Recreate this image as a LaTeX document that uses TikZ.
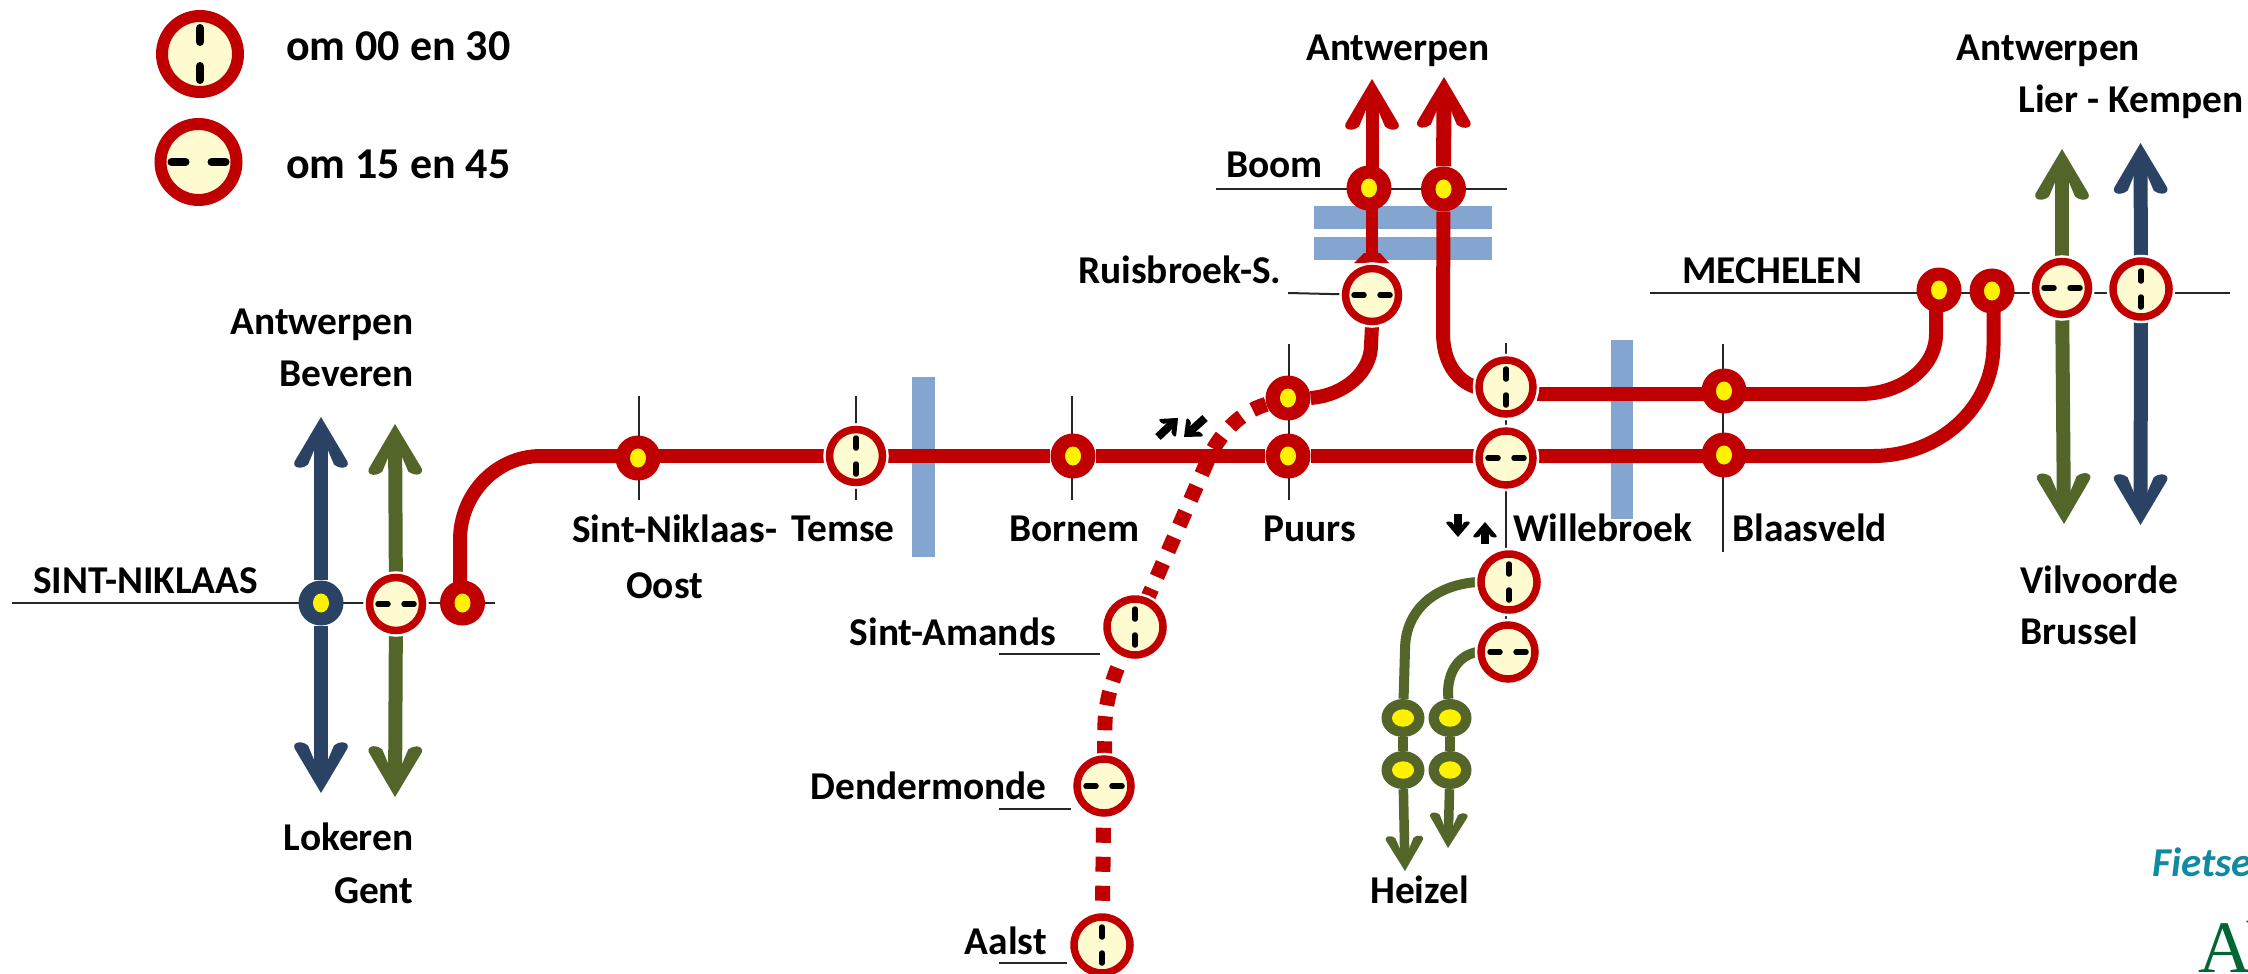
\documentclass[tikz,border=0pt]{standalone}
\usepackage{fontspec}
\setmainfont{Carlito}
\newfontfamily\serifA{Liberation Serif}
\usetikzlibrary{arrows.meta,shapes.geometric}
\pgfdeclarelayer{thinlayer}\pgfdeclarelayer{barlayer}\pgfdeclarelayer{linelayer}
\pgfsetlayers{thinlayer,barlayer,linelayer,main}
\definecolor{rd}{HTML}{C00000}
\definecolor{gn}{HTML}{536529}
\definecolor{bl}{HTML}{2A4264}
\definecolor{cream}{HTML}{FDFBCF}
\definecolor{bar}{HTML}{84A5CF}
\definecolor{teal}{HTML}{0F8AA0}
\definecolor{forest}{HTML}{006633}
\makeatletter
\pgfdeclarearrow{
  name=Wing,
  defaults={length=49pt,width=51pt},
  parameters={\the\pgfarrowlength,\the\pgfarrowwidth},
  setup code={
    \pgfarrowssettipend{\pgfarrowlength}
    \pgfarrowssetlineend{.7\pgfarrowlength}
    \pgfarrowssetvisualbackend{0pt}
    \pgfarrowssetbackend{-.05\pgfarrowlength}
    \pgfarrowshullpoint{\pgfarrowlength}{0pt}
    \pgfarrowsupperhullpoint{0pt}{.5\pgfarrowwidth}
    \pgfarrowssavethe\pgfarrowlength
    \pgfarrowssavethe\pgfarrowwidth
  },
  drawing code={
    \pgfpathmoveto{\pgfpoint{\pgfarrowlength}{0pt}}
    \pgfpathlineto{\pgfpoint{.14\pgfarrowlength}{.5\pgfarrowwidth}}
    \pgfpathcurveto{\pgfpoint{-.02\pgfarrowlength}{.62\pgfarrowwidth}}{\pgfpoint{-.1\pgfarrowlength}{.42\pgfarrowwidth}}{\pgfpoint{.03\pgfarrowlength}{.26\pgfarrowwidth}}
    \pgfpathlineto{\pgfpoint{.66\pgfarrowlength}{0pt}}
    \pgfpathlineto{\pgfpoint{.03\pgfarrowlength}{-.26\pgfarrowwidth}}
    \pgfpathcurveto{\pgfpoint{-.1\pgfarrowlength}{-.42\pgfarrowwidth}}{\pgfpoint{-.02\pgfarrowlength}{-.62\pgfarrowwidth}}{\pgfpoint{.14\pgfarrowlength}{-.5\pgfarrowwidth}}
    \pgfpathclose
    \pgfusepathqfill
  }
}
\makeatother
\newcommand\VT[3]{\draw[draw=black,line width=#3pt,line cap=round] ([yshift=#1pt]path picture bounding box.center)--([yshift=#2pt]path picture bounding box.center);
  \draw[draw=black,line width=#3pt,line cap=round] ([yshift=-#1pt]path picture bounding box.center)--([yshift=-#2pt]path picture bounding box.center);}
\newcommand\HT[3]{\draw[draw=black,line width=#3pt,line cap=round] ([xshift=#1pt]path picture bounding box.center)--([xshift=#2pt]path picture bounding box.center);
  \draw[draw=black,line width=#3pt,line cap=round] ([xshift=-#1pt]path picture bounding box.center)--([xshift=-#2pt]path picture bounding box.center);}
\tikzset{
  ring/.style={circle,draw=rd,fill=cream,line width=7.5pt,minimum size=53pt,inner sep=0pt,
    preaction={draw=white,line width=12.5pt}},
  ringv/.style={ring,path picture={\VT{8}{18}{5.5}}},
  ringh/.style={ring,path picture={\HT{8}{18}{5.5}}},
  legv/.style={ring,line width=12pt,minimum size=76pt,preaction={draw=none},path picture={\VT{12}{26}{8}}},
  legh/.style={ring,line width=12pt,minimum size=76pt,preaction={draw=none},path picture={\HT{13}{27}{8}}},
  stopdot/.style={circle,fill=#1,minimum size=45pt,inner sep=0pt,
    path picture={\fill[yellow] (path picture bounding box.center) ellipse (8pt and 9.5pt);}},
  gdot/.style={ellipse,fill=gn,minimum width=43pt,minimum height=38pt,inner sep=0pt,
    path picture={\fill[yellow] (path picture bounding box.center) ellipse (11pt and 8.7pt);}},
  txt/.style={font=\fontsize{39.4}{47}\selectfont\bfseries,inner sep=0pt,text=black,yshift=-2pt},
  tl/.style={txt,anchor=base west},
  tr/.style={txt,anchor=base east},
  legt/.style={tl,font=\fontsize{44}{52}\selectfont\bfseries},
  thinl/.style={draw=black!85,line width=2pt},
  barb/.style={fill=bar},
  redl/.style={draw=rd,line width=14pt},
  redarrow/.style={draw=rd,line width=13pt,-{Wing[length=49pt,width=50pt]}},
  dotl/.style={draw=rd,line width=15pt},
  bigb/.style={draw=bl,line width=14pt,-{Wing[length=49pt,width=50pt]}},
  bigg/.style={draw=gn,line width=14pt,-{Wing[length=49pt,width=50pt]}},
  smallg/.style={draw=gn,line width=10pt},
  smallga/.style={draw=gn,line width=9.5pt,-{Wing[length=34pt,width=35pt]}},
  blackarrow/.style={draw=black,line width=8pt,-{Wing[length=15pt,width=22pt]}},
}
\begin{document}
\begin{tikzpicture}[x=1pt,y=-1pt]
\useasboundingbox (0,0) rectangle (2248,974);
% ---- stations
\node[legv] (leg1) at (200,54) {};
\node[legh] (leg2) at (198.5,162) {};
\node[stopdot=bl] (snb) at (321,603) {};
\node[ringh] (sng) at (396,604) {};
\node[stopdot=rd] (snr) at (462.5,603) {};
\node[stopdot=rd] (sno) at (638,458) {};
\node[ringv] (temse) at (856,456) {};
\node[stopdot=rd] (bornem) at (1073,456) {};
\node[stopdot=rd] (puurs) at (1288,456) {};
\node[stopdot=rd] (puursT) at (1288,398) {};
\node[ringv,minimum size=54pt] (wu) at (1506,387) {};
\node[ringh,minimum size=54pt] (wl) at (1506,458) {};
\node[stopdot=rd] (blaaU) at (1724,391) {};
\node[stopdot=rd] (blaaL) at (1724,455) {};
\node[stopdot=rd] (m1) at (1939,290) {};
\node[stopdot=rd] (m2) at (1992,291) {};
\node[ringh] (mg) at (2062,288) {};
\node[ringv,minimum size=56pt] (mb) at (2141,289) {};
\node[stopdot=rd] (boom1) at (1369,188) {};
\node[stopdot=rd] (boom2) at (1443.5,189) {};
\node[ringh] (ruis) at (1372,295) {};
\node[ringv,minimum size=56pt] (wb1) at (1509,582) {};
\node[ringh,minimum size=54pt] (wb2) at (1508,652) {};
\node[gdot] (h1) at (1403,718) {};
\node[gdot] (h2) at (1450,718) {};
\node[gdot] (h3) at (1403,770) {};
\node[gdot] (h4) at (1450,770) {};
\node[ringv,minimum size=56pt] (amands) at (1135,627) {};
\node[ringh,minimum size=54pt] (dender) at (1104,786) {};
\node[ringv,minimum size=56pt] (aalst) at (1102,945) {};
% ---- free ends
\foreach \n/\x/\y in {
  snt1/12/603, snt2/495/603, snoT/639/396, snoB/639/500, temT/856/396, temB/856/500,
  borT/1072/396, borB/1072/500, puuT/1289/344, puuB/1289/500, wilT/1506/343, wilB/1506/622,
  blaT/1722.5/344, blaB/1722.5/552, boT1/1216/189, boT2/1506.6/189, ruT/1288/293,
  mecT1/1650/293, mecT2/2230/293, amT/999/654, amE/1100/654, deT/999/809, deE/1071/809,
  aaT/999/963, aaE/1067/963,
  bar1a/912/377, bar1b/935/557, bar2a/1610.6/340, bar2b/1633/519,
  riv1a/1314/206, riv1b/1492/229, riv2a/1314/237, riv2b/1492/260,
  tipBU/321/417, tipBD/321/793, tipGU/395/424, tipGD/395/797,
  tipR1/1372/79, tipR2/1444/77,
  tipMGU/2062/149, tipMGD/2064/524, tipMBU/2140.5/143, tipMBD/2140.5/525,
  tipH1/1405/871, tipH2/1448/848,
  a1s/1158/437, a1e/1178/418, a2s/1205/418, a2e/1184/437,
  a3s/1458/514, a3e/1458/537, a4s/1485/544, a4e/1485/522,
  c1/460/540, c2/541/456, c3/1860/394, c4/1936/334, c5/1873/456, c6/1993.5/345,
  c7/1371/345, c8/1443/333, c9/1405/650, c10/1448/693, c11/1105/722, c12/1122/657,
  c13/1207/462}
  {\coordinate (\n) at (\x,\y);}
% ---- thin lines
\begin{pgfonlayer}{thinlayer}
\draw[thinl] (snt1) -- (snt2);
\draw[thinl] (snoT) -- (snoB);
\draw[thinl] (temT) -- (temB);
\draw[thinl] (borT) -- (borB);
\draw[thinl] (puuT) -- (puuB);
\draw[thinl] (wilT) -- (wilB);
\draw[thinl] (blaT) -- (blaB);
\draw[thinl] (boT1) -- (boT2);
\draw[thinl] (ruT) -- (ruis);
\draw[thinl] (mecT1) -- (mecT2);
\draw[thinl] (amT) -- (amE);
\draw[thinl] (deT) -- (deE);
\draw[thinl] (aaT) -- (aaE);
\end{pgfonlayer}
% ---- water
\begin{pgfonlayer}{barlayer}
\fill[barb] (bar1a) rectangle (bar1b);
\fill[barb] (bar2a) rectangle (bar2b);
\fill[barb] (riv1a) rectangle (riv1b);
\fill[barb] (riv2a) rectangle (riv2b);
\end{pgfonlayer}
% ---- coloured lines
\begin{pgfonlayer}{linelayer}
\draw[redl] (c1 |- snr) -- (c1) .. controls (460,494) and (496,456) .. (c2) -- (c2 -| sno);
\draw[redl] (c2 -| sno) -- (temse);
\draw[redl] (temse) -- (bornem);
\draw[redl] (bornem) -- (puurs);
\draw[redl] (puurs) -- (puurs -| wl.west);
\draw[redl] (c5 -| wl.east) -- (c5) .. controls (1940,456) and (1993.5,407) .. (c6) -- (c6 |- m2);
\draw[redl] (c3 -| wu.east) -- (c3) .. controls (1902,394) and (1936,367) .. (c4) -- (c4 |- m1);
\draw[redl] (boom2) -- (c8) .. controls (1443,360) and (1455,380) .. (wu.west);
\draw[redl] (ruis.south) -- (c7) .. controls (1371,372) and (1345,395) .. (puursT.east);
\draw[redl,line width=12.5pt] (ruis |- boom1) -- (ruis);
\fill[rd] (1354,263) -- (1364,253) -- (1380,253) -- (1389,263) -- cycle;
\draw[redarrow] (tipR1 |- boom1) -- (tipR1);
\draw[redarrow,line width=15pt] (boom2) -- (tipR2);
\draw[bigb] (snb) -- (tipBU);
\draw[bigb] (snb) -- (tipBD);
\draw[bigg] (sng) -- (tipGU);
\draw[bigg] (sng) -- (tipGD);
\draw[bigg] (mg) -- (tipMGU);
\draw[bigg] (mg) -- (tipMGD);
\draw[bigb] (mb) -- (tipMBU);
\draw[bigb] (mb) -- (tipMBD);
\draw[smallg] (wb1.west) .. controls (1435,585) and (1405,610) .. (c9) -- (h1);
\draw[smallg] (wb2.west) .. controls (1460,655) and (1448,670) .. (c10) -- (h2);
\draw[smallg] (h1) -- (h3);
\draw[smallg] (h2) -- (h4);
\draw[smallga] (h3) -- (tipH1);
\draw[smallga] (h4) -- (tipH2);
\draw[dotl,dash pattern=on 15pt off 14pt,dash phase=16.5pt] (aalst) -- (dender);
\draw[dotl,dash pattern=on 14pt off 11pt] (dender) -- (c11) .. controls (1106,700) and (1112,680) .. (c12) -- (amands);
\draw[dotl,dash pattern=on 15pt off 13pt,dash phase=5pt] (amands) -- (c13) .. controls (1218,435) and (1240,412) .. (puursT);
\draw[blackarrow] (a1s) -- (a1e);
\draw[blackarrow] (a2s) -- (a2e);
\draw[blackarrow] (a3s) -- (a3e);
\draw[blackarrow] (a4s) -- (a4e);
\end{pgfonlayer}
% ---- labels
\node[legt] (t1) at (286,58) {om 00 en 30};
\node[legt] (t2) at (286,176) {om 15 en 45};
\node[tr] (t3) at (414,332) {Antwerpen};
\node[tr] (t4) at (414,384) {Beveren};
\node[tl] (t5) at (33,591) {SINT-NIKLAAS};
\node[tr] (t6) at (413.6,848) {Lokeren};
\node[tr] (t7) at (413.6,901) {Gent};
\node[tl] (t8) at (572,540) {Sint-Niklaas-};
\node[tl] (t9) at (626,596) {Oost};
\node[tr] (t10) at (895,539) {Temse};
\node[tl] (t11) at (1009,539) {Bornem};
\node[tl] (t12) at (1263,539) {Puurs};
\node[tl] (t13) at (1513,539) {Willebroek};
\node[tl] (t14) at (1732,539) {Blaasveld};
\node[tr] (t15) at (1056,643) {Sint-Amands};
\node[tr] (t16) at (1047,797) {Dendermonde};
\node[tr] (t17) at (1047,952) {Aalst};
\node[tl] (t18) at (1370,901) {Heizel};
\node[tl] (t19) at (1226,175) {Boom};
\node[tl] (t20) at (1306,58) {Antwerpen};
\node[tr] (t21) at (1281.5,281) {Ruisbroek-S.};
\node[tl] (t22) at (1682,281) {MECHELEN};
\node[tl] (t23) at (1956.5,58) {Antwerpen};
\node[tr] (t24) at (2243.5,110) {Lier - Kempen};
\node[tl] (t25) at (2020,591) {Vilvoorde};
\node[tl] (t26) at (2020,642) {Brussel};
\node[anchor=base west,inner sep=0pt,text=teal,font=\fontsize{41}{48}\selectfont\bfseries\itshape] (t27) at (2152,876) {Fietse};
\node[anchor=base west,inner sep=0pt,text=forest,font=\serifA\fontsize{74}{80}\selectfont] (t28) at (2198,972) {A\kern-6pt l};
\end{tikzpicture}
\end{document}
